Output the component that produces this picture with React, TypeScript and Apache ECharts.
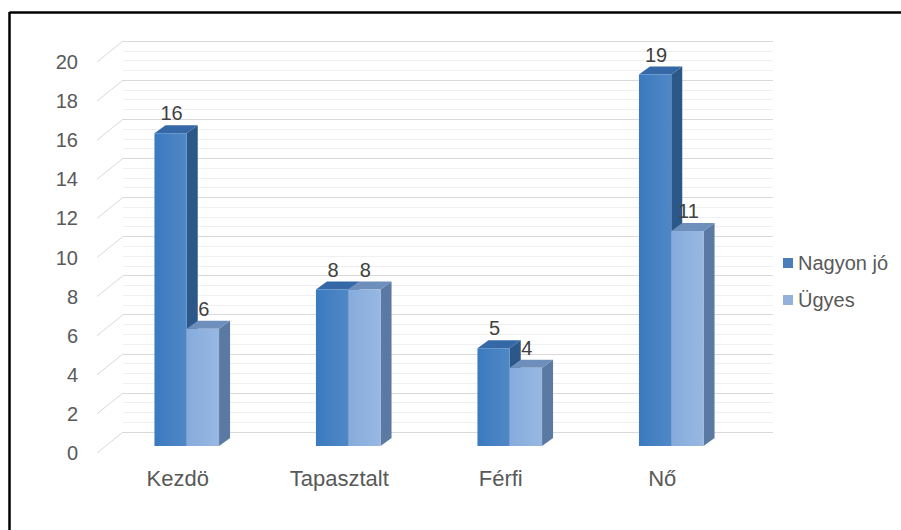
import React, { useEffect, useRef } from "react";
import * as echarts from "echarts";

const categories = ["Kezdö", "Tapasztalt", "Férfi", "Nő"];
const seriesNames = ["Nagyon jó", "Ügyes"];
const nagyonJo = [16, 8, 5, 19];
const ugyes = [6, 8, 4, 11];
const yTickValues = [0, 2, 4, 6, 8, 10, 12, 14, 16, 18, 20];

const FONT = '"Liberation Sans", Arial, sans-serif';

const palette = [
  { legend: "#4A7EBB", frontL: "#3B7AC0", frontR: "#5088C6", top: "#3568A6", side: "#2B5888" },
  { legend: "#93B1DA", frontL: "#86ABDC", frontR: "#98B8E2", top: "#6E8EBB", side: "#5A7AA3" },
];

const DX = 11;
const DY = 8;

function makeBarRenderer(idx: number) {
  const c = palette[idx];
  return (params: any, api: any) => {
    const ci = api.value(0);
    const v = api.value(1);
    const top = api.coord([ci, v]);
    const base = api.coord([ci, 0]);
    const band = api.size([1, 0])[0];
    const w = band * 0.2;
    const x0 = idx === 0 ? top[0] - w : top[0];
    const x1 = x0 + w;
    const yt = top[1];
    const yb = base[1];
    return {
      type: "group",
      children: [
        {
          type: "polygon",
          shape: { points: [[x1, yt], [x1 + DX, yt - DY], [x1 + DX, yb - DY], [x1, yb]] },
          style: { fill: c.side },
        },
        {
          type: "polygon",
          shape: { points: [[x0, yt], [x0 + DX, yt - DY], [x1 + DX, yt - DY], [x1, yt]] },
          style: { fill: c.top },
        },
        {
          type: "rect",
          shape: { x: x0, y: yt, width: w, height: yb - yt },
          style: {
            fill: new echarts.graphic.LinearGradient(0, 0, 1, 0, [
              { offset: 0, color: c.frontL },
              { offset: 1, color: c.frontR },
            ]),
          },
        },
        {
          type: "text",
          style: {
            text: String(v),
            x: (x0 + x1) / 2 + 1,
            y: yt - 20,
            align: "center",
            verticalAlign: "middle",
            fontSize: 20,
            fontFamily: FONT,
            fill: "#404040",
          },
        },
      ],
    };
  };
}

export default function App() {
  const ref = useRef<HTMLDivElement>(null);
  useEffect(() => {
    if (!ref.current) return;
    const chart = echarts.init(ref.current, undefined, { renderer: "svg" });
    const option: any = {
      animation: false,
      backgroundColor: "#ffffff",
      grid: [
        { left: 123, right: 128, top: 41, bottom: 98 },
        { left: 106, right: 149, top: 55, bottom: 84 },
        { left: 97, right: 158, top: 62, bottom: 77 },
      ],
      xAxis: [
        { type: "category", gridIndex: 0, data: categories, show: false },
        { type: "category", gridIndex: 1, data: categories, show: false },
        {
          type: "category",
          gridIndex: 2,
          data: categories,
          axisLine: { show: false },
          axisTick: { show: false },
          axisLabel: { fontSize: 22, color: "#595959", fontFamily: FONT, margin: 14 },
        },
      ],
      yAxis: [
        {
          type: "value",
          gridIndex: 0,
          min: 0,
          max: 20,
          interval: 2,
          axisLabel: { show: false },
          axisLine: { show: false },
          axisTick: { show: false },
          splitLine: { show: true, lineStyle: { color: "#D9D9D9", width: 1 } },
          minorTick: { show: false, splitNumber: 4 },
          minorSplitLine: { show: true, lineStyle: { color: "#EFEFEF", width: 1 } },
        },
        { type: "value", gridIndex: 1, min: 0, max: 20, interval: 2, show: false },
        {
          type: "value",
          gridIndex: 2,
          min: 0,
          max: 20,
          interval: 2,
          axisLine: { show: false },
          axisTick: { show: false },
          splitLine: { show: false },
          axisLabel: { fontSize: 20, color: "#595959", fontFamily: FONT, margin: 19 },
        },
      ],
      legend: {
        orient: "vertical",
        left: 778,
        top: 248,
        itemWidth: 10,
        itemHeight: 10,
        itemGap: 17,
        icon: "rect",
        data: seriesNames,
        textStyle: { fontSize: 20, color: "#595959", fontFamily: FONT },
      },
      series: [
        {
          type: "custom",
          name: "wall",
          xAxisIndex: 0,
          yAxisIndex: 0,
          silent: true,
          data: yTickValues.map((v) => [0, v]),
          renderItem: (params: any, api: any) => {
            const p = api.coord([0, api.value(1)]);
            const x0 = params.coordSys.x;
            return {
              type: "line",
              shape: { x1: x0, y1: p[1], x2: x0 - 26, y2: p[1] + 21 },
              style: { stroke: "#D9D9D9", lineWidth: 1 },
            };
          },
        },
        {
          type: "custom",
          name: seriesNames[0],
          xAxisIndex: 1,
          yAxisIndex: 1,
          itemStyle: { color: palette[0].legend },
          data: nagyonJo.map((v, i) => [i, v]),
          renderItem: makeBarRenderer(0),
        },
        {
          type: "custom",
          name: seriesNames[1],
          xAxisIndex: 1,
          yAxisIndex: 1,
          itemStyle: { color: palette[1].legend },
          data: ugyes.map((v, i) => [i, v]),
          renderItem: makeBarRenderer(1),
        },
      ],
      graphic: [
        { type: "line", shape: { x1: 9.5, y1: 12.5, x2: 901, y2: 12.5 }, style: { stroke: "#000", lineWidth: 2.5 } },
        { type: "line", shape: { x1: 9.5, y1: 12, x2: 9.5, y2: 530 }, style: { stroke: "#000", lineWidth: 2.5 } },
      ],
    };
    chart.setOption(option);
    return () => chart.dispose();
  }, []);
  return (
    <div
      ref={ref}
      style={{ position: "fixed", left: 0, top: 0, width: 901, height: 530, background: "#fff" }}
    />
  );
}
